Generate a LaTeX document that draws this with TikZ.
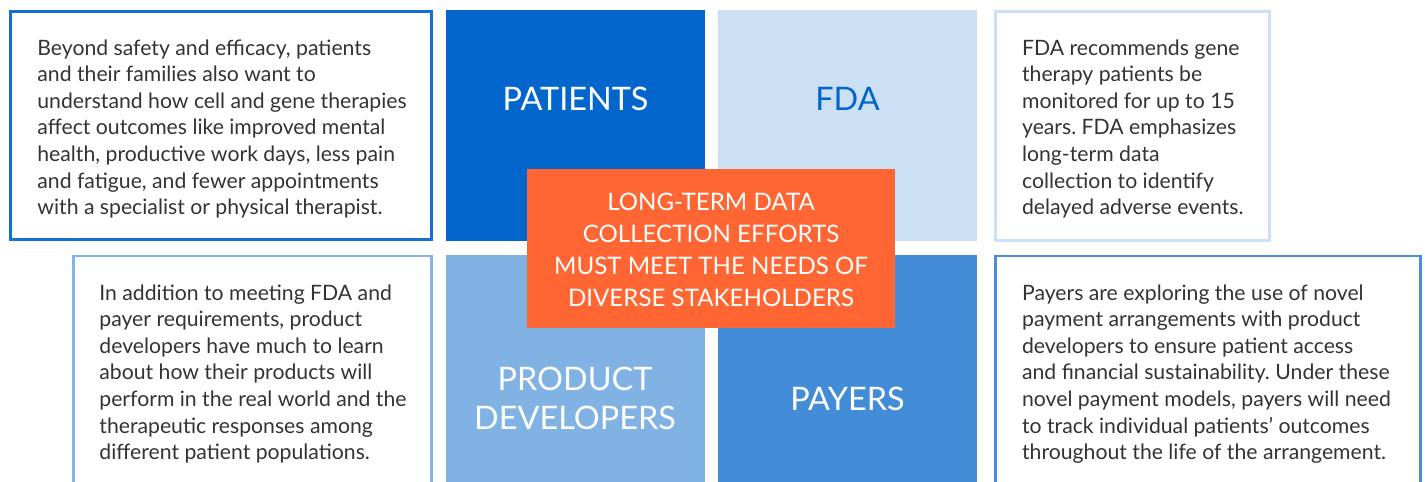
\documentclass[tikz,border=0pt]{standalone}
\usepackage{fontspec}
\setmainfont{Lato}
\frenchspacing

\definecolor{patblue}{RGB}{3,102,204}
\definecolor{fdablue}{RGB}{204,224,244}
\definecolor{devblue}{RGB}{128,178,228}
\definecolor{payblue}{RGB}{66,140,216}
\definecolor{accent}{RGB}{255,102,51}
\definecolor{bodytext}{RGB}{51,51,51}
\definecolor{tlborder}{RGB}{20,112,212}
\definecolor{trborder}{RGB}{204,225,245}
\definecolor{blborder}{RGB}{133,181,230}
\definecolor{brborder}{RGB}{72,143,217}

\begin{document}
\begin{tikzpicture}[x=0.5pt,y=-0.5pt,
  note/.style={anchor=base west, inner sep=0pt, text=bodytext,
    font=\fontsize{10.6}{13.33}\selectfont},
  title/.style={anchor=base, inner sep=0pt, text=white,
    font=\fontsize{16.2}{19.35}\selectfont},
  frame/.style={line width=1.3pt}]
\useasboundingbox (0,0) rectangle (1425,482);
\clip (0,0) rectangle (1425,482);

% stakeholder squares
\fill[patblue] (446,10) rectangle (705,241);
\fill[fdablue] (718,10) rectangle (977,241);
\fill[devblue] (446,255) rectangle (705,500);
\fill[payblue] (718,255) rectangle (977,500);

% framed notes
\draw[frame, tlborder] (10.6,11.3) rectangle (431.4,239.4);
\draw[frame, trborder] (995.6,11.3) rectangle (1269.7,240.4);
\draw[frame, blborder] (73.3,255.8) rectangle (431.4,500);
\draw[frame, brborder] (995.6,255.8) rectangle (1420.4,500);

% stakeholder names
\node[title] (patients) at (575.5,110) {PATIENTS};
\node[title, text=patblue] (fda) at (847.5,110) {FDA};
\node[title] (developers) at (575,390.7)
  {\parbox[t]{150pt}{\centering PRODUCT\\DEVELOPERS}};
\node[title] (payers) at (847.5,410.7) {PAYERS};

% central message
\fill[accent] (527,169) rectangle (895,328);
\node[anchor=base, inner sep=0pt, text=white,
  font=\fontsize{12.05}{16}\selectfont] (message) at (711,210)
  {\parbox[t]{180pt}{\centering LONG-TERM DATA\\COLLECTION EFFORTS\\MUST MEET THE NEEDS OF\\DIVERSE STAKEHOLDERS}};

% note texts
\node[note] (patientsnote) at (37,55) {\parbox[t]{200pt}{\raggedright
  Beyond safety and efficacy, patients\\
  and their families also want to\\
  understand how cell and gene therapies\\
  affect outcomes like improved mental\\
  health, productive work days, less pain\\
  and fatigue, and fewer appointments\\
  with a specialist or physical therapist.}};
\node[note] (fdanote) at (1021.7,55) {\parbox[t]{140pt}{\raggedright
  FDA recommends gene\\
  therapy patients be\\
  monitored for up to 15\\
  years. FDA emphasizes\\
  long-term data\\
  collection to identify\\
  delayed adverse events.}};
\node[note] (developersnote) at (99,300) {\parbox[t]{200pt}{\raggedright
  In addition to meeting FDA and\\
  payer requirements, product\\
  developers have much to learn\\
  about how their products will\\
  perform in the real world and the\\
  therapeutic responses among\\
  different patient populations.}};
\node[note] (payersnote) at (1021.7,300) {\parbox[t]{200pt}{\raggedright
  Payers are exploring the use of novel\\
  payment arrangements with product\\
  developers to ensure patient access\\
  and financial sustainability. Under these\\
  novel payment models, payers will need\\
  to track individual patients’ outcomes\\
  throughout the life of the arrangement.}};
\end{tikzpicture}
\end{document}
